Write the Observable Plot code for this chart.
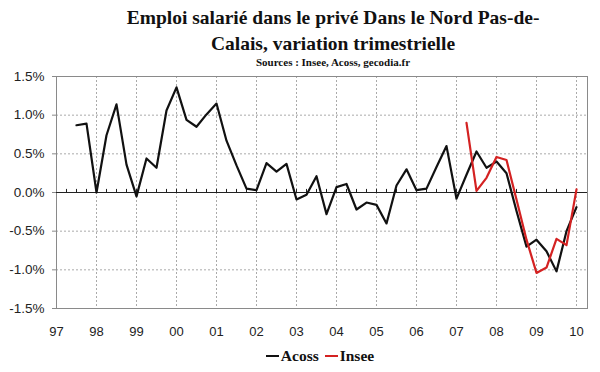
<!DOCTYPE html>
<html>
<head>
<meta charset="utf-8">
<script src="https://cdn.jsdelivr.net/npm/d3@7"></script>
<script src="https://cdn.jsdelivr.net/npm/@observablehq/plot@0.6"></script>
<style>
  html, body { margin: 0; padding: 0; background: #fff; }
  #wrap { width: 600px; height: 372px; position: relative; overflow: hidden; }
  #title { height: 66px; box-sizing: border-box; padding-top: 5px; padding-left: 66px; text-align: center;
    font-family: "Liberation Serif", "Times New Roman", serif; font-weight: bold; color: #111; }
  #title .t { font-size: 19.5px; line-height: 26px; }
  #title .s { font-size: 11px; line-height: 10px; }
  #legend { height: 32px; display: flex; align-items: center; justify-content: center; padding-left: 40px; box-sizing: border-box;
    font-family: "Liberation Serif", "Times New Roman", serif; font-weight: bold; font-size: 15.5px; color: #111; }
  #legend .sw { display: inline-block; width: 13px; height: 2px; margin-right: 2px; vertical-align: middle; }
  #legend .it { margin: 0 3px; display: flex; align-items: center; }
  svg { display: block; }
</style>
</head>
<body>
<div id="wrap">
  <div id="title"><div class="t">Emploi salarié dans le privé Dans le Nord Pas-de-<br>Calais, variation trimestrielle</div><div class="s">Sources : Insee, Acoss, gecodia.fr</div></div>
  <div id="chart"></div>
  <div id="legend"></div>
</div>
<script>
// Category axis: quarterly positions (year fractions)
const acossStart = 1997.5;
const inseeStart = 2007.25;
// Acoss: quarterly change, %
const acossValues = [0.87, 0.89, 0.00, 0.74, 1.14, 0.36, -0.05, 0.44, 0.32, 1.06,
  1.36, 0.94, 0.85, 1.01, 1.15, 0.67, 0.35, 0.05, 0.03, 0.38,
  0.27, 0.37, -0.09, -0.03, 0.21, -0.28, 0.07, 0.11, -0.22, -0.13,
  -0.16, -0.40, 0.09, 0.30, 0.03, 0.05, 0.33, 0.60, -0.08, 0.23,
  0.53, 0.32, 0.40, 0.25, -0.24, -0.70, -0.61, -0.76, -1.02, -0.50, -0.19];
// Insee: quarterly change, %
const inseeValues = [0.90, 0.02, 0.19, 0.46, 0.42, -0.09, -0.61, -1.04, -0.97, -0.60, -0.68, 0.04];
const yearTicks = [1997, 1998, 1999, 2000, 2001, 2002, 2003, 2004, 2005, 2006, 2007, 2008, 2009, 2010];
const yearLabels = ["97", "98", "99", "00", "01", "02", "03", "04", "05", "06", "07", "08", "09", "10"];
const yTicks = [-1.5, -1.0, -0.5, 0.0, 0.5, 1.0, 1.5];
const seriesNames = ["Acoss", "Insee"];
const seriesColors = ["#111111", "#d42222"];

const acoss = acossValues.map((v, i) => ({x: acossStart + i * 0.25, y: v, s: "Acoss"}));
const insee = inseeValues.map((v, i) => ({x: inseeStart + i * 0.25, y: v, s: "Insee"}));
const quarters = [];
for (let q = yearTicks[0] * 4 + 1; q <= yearTicks[yearTicks.length - 1] * 4; q++) quarters.push(q / 4);
const gridYears = yearTicks.slice(1);
const gridY = yTicks.filter(d => d !== 0 && Math.abs(d) !== 1.5);

const labelFor = d => yearLabels[yearTicks.indexOf(d)];

const chart = Plot.plot({
  width: 600,
  height: 274,
  marginTop: 10,
  marginBottom: 32,
  marginLeft: 56,
  marginRight: 13,
  style: {fontFamily: "'Liberation Sans', Arial, sans-serif", fontSize: "13px", color: "#222", background: "transparent"},
  x: {domain: [1997, 2010.275], axis: null},
  y: {domain: [-1.5, 1.5], axis: null},
  color: {domain: seriesNames, range: seriesColors},
  marks: [
    Plot.gridY(gridY, {stroke: "#aaa", strokeOpacity: 1, strokeDasharray: "2,2"}),
    Plot.gridX(gridYears, {stroke: "#aaa", strokeOpacity: 1, strokeDasharray: "2,2"}),
    Plot.frame({stroke: "#8a8a8a"}),
    Plot.axisY(yTicks, {anchor: "left", label: null, tickSize: 4, tickPadding: 8, stroke: "#8a8a8a",
      tickFormat: d => d.toFixed(1) + "%", fontSize: 13.5, fill: "#222"}),
    Plot.axisX(yearTicks, {anchor: "bottom", label: null, tickSize: 0, tickPadding: 18,
      tickFormat: labelFor, fontSize: 13, fill: "#222"}),
    Plot.ruleY([0], {stroke: "#222", strokeWidth: 1}),
    Plot.ruleX(quarters, {x: d => d, y1: 0, y2: 0.04, stroke: "#222", strokeWidth: 1}),
    Plot.line(acoss, {x: "x", y: "y", stroke: "s", strokeWidth: 2.2}),
    Plot.line(insee, {x: "x", y: "y", stroke: "s", strokeWidth: 2.2})
  ]
});
document.getElementById("chart").appendChild(chart);

const leg = document.getElementById("legend");
seriesNames.forEach((n, i) => {
  const it = document.createElement("span");
  it.className = "it";
  const sw = document.createElement("span");
  sw.className = "sw";
  sw.style.background = seriesColors[i];
  it.appendChild(sw);
  it.appendChild(document.createTextNode(n));
  leg.appendChild(it);
});
</script>
</body>
</html>
